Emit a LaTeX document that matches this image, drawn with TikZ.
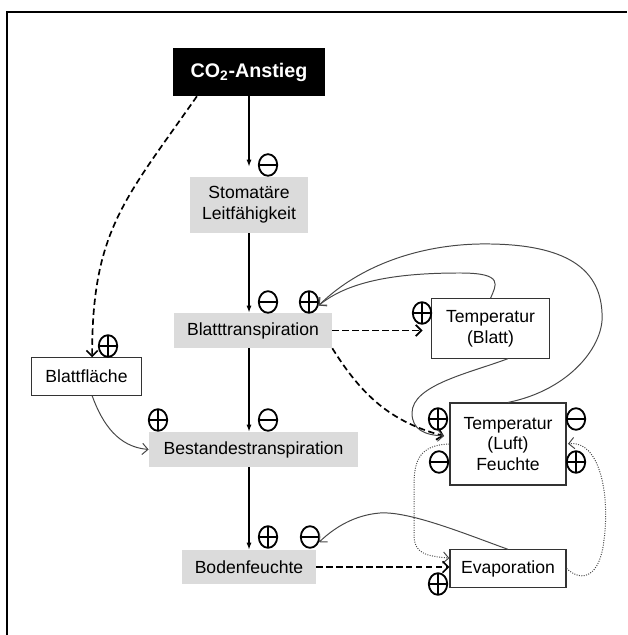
\documentclass[tikz,border=0pt]{standalone}
\usepackage{fontspec}
\setmainfont{Liberation Sans}
\usetikzlibrary{arrows.meta,shapes.geometric}

\tikzset{
  box/.style={rectangle, inner sep=0pt, align=center, font=\fontsize{12.5}{14.8}\selectfont},
  blackbox/.style={box, fill=black, text=white, font=\fontsize{14}{16}\selectfont\bfseries},
  graybox/.style={box, fill=gray!28},
  whitebox/.style={box, draw=black!80, line width=0.8pt, fill=white},
  sign/.style={ellipse, draw, line width=1.3pt, minimum width=0.46cm, minimum height=0.54cm, inner sep=0pt},
  possign/.style={sign, path picture={\draw[line width=1.3pt] (path picture bounding box.north) -- (path picture bounding box.south) (path picture bounding box.west) -- (path picture bounding box.east);}},
  negsign/.style={sign, path picture={\draw[line width=1.3pt] (path picture bounding box.west) -- (path picture bounding box.east);}},
  main/.style={line width=0.9pt, -{Latex[length=5pt,width=3.6pt]}},
  effect/.style={line width=1.2pt, dash pattern=on 4.5pt off 2.6pt, -{Straight Barb[length=4pt,width=8pt]}},
  feedback/.style={black!72, line width=0.7pt, -{Straight Barb[length=4pt,width=8pt]}},
  fbdotted/.style={feedback, densely dotted},
}

\begin{document}
\begin{tikzpicture}[x=0.025cm, y=0.025cm]
\useasboundingbox (0,0) rectangle (627,635);
% frame
\draw[line width=1.8pt] (7,0) -- (7,623) -- (627,623);

% boxes
\node[blackbox, minimum width=3.8cm, minimum height=1.2cm] (co2) at (249,563) {CO\textsubscript{2}-Anstieg};
\node[graybox, minimum width=2.93cm, minimum height=1.4cm] (stoma) at (249,430) {Stomatäre\\Leitfähigkeit};
\node[graybox, minimum width=3.95cm, minimum height=0.875cm] (blatttr) at (253,304.5) {Blatttranspiration};
\node[whitebox, minimum width=2.73cm, minimum height=0.93cm] (blattfl) at (86.5,258.5) {Blattfläche};
\node[graybox, minimum width=5.23cm, minimum height=0.875cm] (bestand) at (253.5,185.5) {Bestandestranspiration};
\node[graybox, minimum width=3.35cm, minimum height=0.85cm] (boden) at (249,68) {Bodenfeuchte};
\node[whitebox, minimum width=2.93cm, minimum height=1.48cm] (tblatt) at (490.5,306.5) {Temperatur\\(Blatt)};
\node[whitebox, minimum width=2.9cm, minimum height=2.05cm] (tluft) at (508,191) {Temperatur\\(Luft)\\Feuchte};
\node[whitebox, minimum width=2.9cm, minimum height=0.93cm] (evap) at (508,66.5) {Evaporation};

% signs
\node[negsign] (m1) at (268,470) {};
\node[negsign] (m2) at (268,333) {};
\node[possign] (p1) at (309,333) {};
\node[possign] (p2) at (108,289) {};
\node[possign] (p3) at (158,215) {};
\node[negsign] (m3) at (268,215) {};
\node[possign] (p4) at (268,98) {};
\node[negsign] (m4) at (310,98) {};
\node[possign] (p5) at (422,322) {};
\node[possign] (p6) at (438,216) {};
\node[negsign] (m5) at (439,173) {};
\node[negsign] (m6) at (576,216) {};
\node[possign] (p7) at (576,173) {};
\node[possign] (p8) at (438,51) {};

% main chain
\draw[main, shorten >=0.25cm] (co2.south) -- (stoma.north);
\draw[main] (stoma.south) -- (stoma.south |- blatttr.north);
\draw[main] (stoma.south |- blatttr.south) -- (stoma.south |- bestand.north);
\draw[main] (boden.north |- bestand.south) -- (boden.north);

% left branch
\draw[effect] (co2.205) to[out=235, in=90, looseness=1.15] ([xshift=0.14cm]blattfl.north);
\draw[feedback] ([xshift=0.14cm]blattfl.south) to[out=-70, in=175] (bestand.west);

% right side
\coordinate (luftin) at (444,199);
\draw[effect, shorten >=0.22cm] (blatttr.east) -- (blatttr.east -| tblatt.west);
\draw[effect] (blatttr.south east) to[out=-58, in=165] (luftin);
\draw[feedback] (tblatt.-60) .. controls (470,262) and (412,250) .. (412,222) .. controls (412,205) and (425,200) .. (luftin);
\draw[feedback] (tblatt.north) .. controls (496,350) and (505,362) .. (460,362) .. controls (400,362) and (350,355) .. (p1.-20);
\draw[feedback] (tluft.north) .. controls (570,245) and (605,290) .. (602,322) .. controls (600,370) and (560,392) .. (480,391) .. controls (420,390) and (360,370) .. (p1.-20);
\draw[fbdotted] (tluft.west) .. controls (420,190) and (414,175) .. (414,150) -- (414,100) .. controls (414,82) and (425,79) .. (evap.170);
\draw[fbdotted, shorten >=1pt] (evap.east) .. controls (582,52) and (600,58) .. (604,95) .. controls (610,140) and (600,195) .. (tluft.east);
\draw[feedback] (evap.north) .. controls (468,100) and (410,124) .. (380,122) .. controls (355,120) and (335,108) .. (m4.-30);
\draw[effect] (boden.east) -- (boden.east -| evap.west);
\end{tikzpicture}
\end{document}
